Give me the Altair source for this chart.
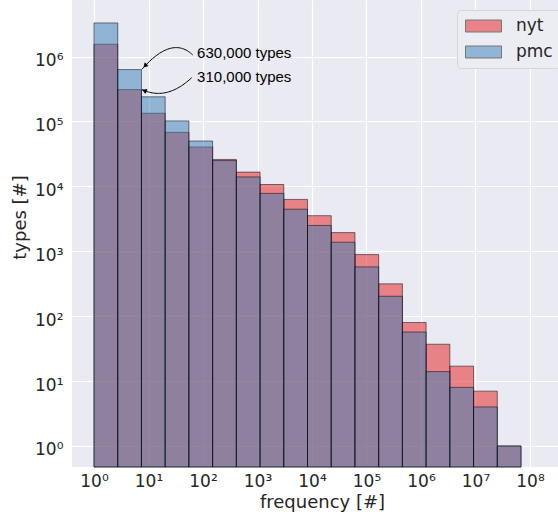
import math

import altair as alt
import numpy as np
import pandas as pd

# Logarithmic histogram bins (edges) and the number of types per bin
bin_edges = [1, 2.725, 7.425, 20.23, 55.12, 150.2, 409.2, 1115, 3038, 8274,
             22540, 61420, 167300, 456000, 1242000, 3384000, 9222000,
             25130000, 68460000]
nyt_types = [1550000, 310000, 134000, 68000, 40500, 26000, 16600, 10700, 6300,
             3540, 1940, 890, 315, 80, 37, 17, 7, 1]
pmc_types = [3300000, 630000, 240000, 102000, 50000, 25000, 14000, 7800, 4450,
             2500, 1380, 575, 203, 57, 14, 8, 4, 1]
series_names = ["nyt", "pmc"]
series_colors = ["#e41a1c", "#377eb8"]

x_ticks = [1, 10, 100, 1e3, 1e4, 1e5, 1e6, 1e7, 1e8]
y_ticks = [1, 10, 100, 1e3, 1e4, 1e5, 1e6]

# Annotations: label text, label anchor, arrow tail, arrow bend point, arrow tip
ann_text = ["630,000 types", "310,000 types"]
ann_text_x = [78, 78]
ann_text_y = [9.4e5, 4.1e5]
arrow_tail = [(64.7, 1.06e6), (62.1, 4.74e5)]
arrow_bend = [(27.0, 2.15e6), (21.6, 2.06e5)]
arrow_tip = [(7.6, 640000), (7.6, 310000)]

W, H = 486, 467
x_dom = [0.3946, 3.266e8]
y_dom = [0.4747, 7.447e6]

rows = []
for name, counts in zip(series_names, [nyt_types, pmc_types]):
    for i, c in enumerate(counts):
        rows.append({"series": name, "lo": bin_edges[i], "hi": bin_edges[i + 1], "types": c})
bars_df = pd.DataFrame(rows)

xscale = alt.Scale(type="log", domain=x_dom, nice=False)
yscale = alt.Scale(type="log", domain=y_dom, nice=False)

sup = "['⁰','¹','²','³','⁴','⁵','⁶','⁷','⁸']"
label_expr = f"'10' + {sup}[round(log(datum.value)/LN10)]"

common_axis = dict(
    grid=True, gridColor="white", gridWidth=1.2, domain=False, ticks=False,
    tickSize=0, labelFont="DejaVu Sans", labelFontSize=17, labelColor="#262626",
    titleFont="DejaVu Sans", titleFontSize=18, titleFontWeight="normal",
    titleColor="#262626", labelExpr=label_expr,
)

x_axis = alt.Axis(values=x_ticks, title="frequency [#]", labelPadding=6,
                  titleX=250, titleY=35, titleBaseline="middle", titleAlign="center",
                  **common_axis)
y_axis = alt.Axis(values=y_ticks, title="types [#]", labelPadding=9, labelOffset=4,
                  titleX=-52, titleY=217, titleAngle=270, titleAlign="center",
                  titleBaseline="middle", **common_axis)

bars = alt.Chart(bars_df).mark_rect(
    fillOpacity=0.5, stroke="black", strokeOpacity=0.5, strokeWidth=1
).encode(
    x=alt.X("lo:Q", scale=xscale, axis=x_axis),
    x2="hi:Q",
    y=alt.Y("types:Q", scale=yscale, axis=y_axis),
    y2=alt.datum(y_dom[0]),
    color=alt.Color(
        "series:N",
        scale=alt.Scale(domain=series_names, range=series_colors),
        legend=alt.Legend(
            title=None, orient="none", legendX=385, legendY=10,
            fillColor="#ececf3", strokeColor="#d4d4da", cornerRadius=4,
            padding=8, rowPadding=9, labelOffset=14, clipHeight=16,
            labelFont="DejaVu Sans", labelFontSize=17, labelColor="#262626",
            symbolType="M-1,-0.333H1V0.333H-1Z", symbolSize=1296,
            symbolStrokeColor="black", symbolStrokeWidth=1, symbolOpacity=0.5,
        ),
    ),
)

text_df = pd.DataFrame({"x": ann_text_x, "y": ann_text_y, "label": ann_text})
texts = alt.Chart(text_df).mark_text(
    align="left", baseline="alphabetic", font="Liberation Sans", fontSize=15, color="black"
).encode(x=alt.X("x:Q", scale=xscale), y=alt.Y("y:Q", scale=yscale), text="label:N")

# Curved arrows: quadratic Bezier in log space (the scales are linear there)
px_x = W / (math.log10(x_dom[1]) - math.log10(x_dom[0]))
px_y = H / (math.log10(y_dom[1]) - math.log10(y_dom[0]))
curve_rows, head_rows = [], []
for k, (p0, c, p2) in enumerate(zip(arrow_tail, arrow_bend, arrow_tip)):
    a = np.log10(p0)
    b = np.log10(c)
    e = np.log10(p2)
    for j, t in enumerate(np.linspace(0, 1, 40)):
        p = (1 - t) ** 2 * a + 2 * (1 - t) * t * b + t ** 2 * e
        curve_rows.append({"arrow": k, "i": j, "x": 10 ** p[0], "y": 10 ** p[1]})
    t = 0.94
    p = (1 - t) ** 2 * a + 2 * (1 - t) * t * b + t ** 2 * e
    d = 2 * (1 - t) * (b - a) + 2 * t * (e - b)
    dx, dy = d[0] * px_x, -d[1] * px_y
    ang = math.degrees(math.atan2(dx, -dy)) % 360
    head_rows.append({"x": 10 ** p[0], "y": 10 ** p[1], "angle": ang})

curves = alt.Chart(pd.DataFrame(curve_rows)).mark_line(
    color="black", strokeWidth=1
).encode(
    x=alt.X("x:Q", scale=xscale), y=alt.Y("y:Q", scale=yscale),
    detail="arrow:N", order="i:Q",
)
heads = alt.Chart(pd.DataFrame(head_rows)).mark_point(
    shape="triangle", filled=True, size=28, color="black", opacity=1
).encode(
    x=alt.X("x:Q", scale=xscale), y=alt.Y("y:Q", scale=yscale),
    angle=alt.Angle("angle:Q", scale=None),
)

chart = alt.layer(bars, texts, curves, heads).properties(
    width=W, height=H,
    background="white",
    autosize=alt.AutoSizeParams(type="none"),
    padding={"left": 72, "top": 0, "right": 0, "bottom": 50},
).configure_view(fill="#eaeaf2", strokeWidth=0)

chart.save("out.html", embed_options={"renderer": "svg", "actions": False})
